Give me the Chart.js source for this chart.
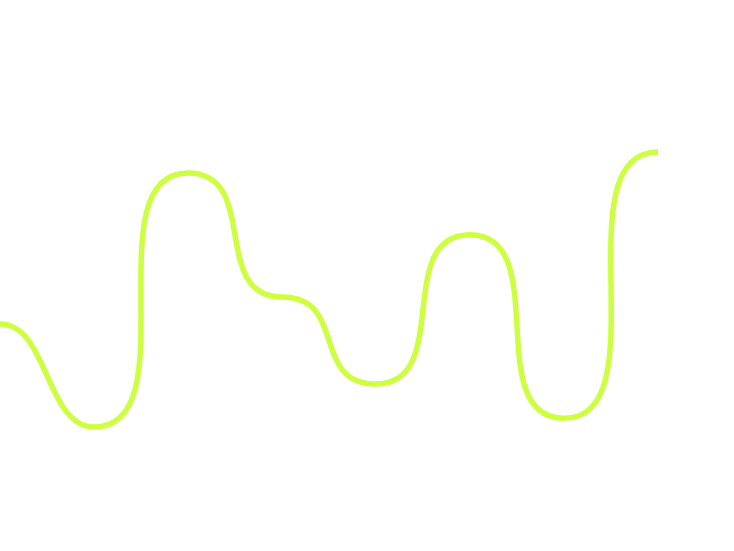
<!DOCTYPE html>
<html>
<head>
<meta charset="utf-8">
<style>
html,body{margin:0;padding:0;background:#fff;}
#wrap{width:734px;height:551px;position:relative;}
</style>
<script src="https://cdn.jsdelivr.net/npm/chart.js@4/dist/chart.umd.min.js"></script>
</head>
<body>
<div id="wrap"><canvas id="c"></canvas></div>
<script>
const categories = ['1', '2', '3', '4', '5', '6', '7', '8'];
const seriesValues = [41.2, 22.5, 68.6, 46.1, 30.3, 57.4, 24.1, 72.4];
const yMin = 0;
const yMax = 100;

// Smooth curve with horizontal tangents at every point; arm length grows with segment steepness
const flatTangents = {
  id: 'flatTangents',
  beforeDatasetDraw(chart, args) {
    const meta = args.meta;
    const line = meta.dataset;
    if (!line) return;
    line._pointsUpdated = false;
    line.updateControlPoints(chart.chartArea, meta.iScale.axis);
    const pts = meta.data;
    const n = pts.length;
    const arm = (j) => {
      const p = pts[j], q = pts[j + 1];
      const dx = Math.abs(q.x - p.x);
      const len = Math.hypot(q.x - p.x, q.y - p.y);
      return 0.6 * Math.sqrt(len / dx) * dx * (j === 0 ? 0.7 : 1);
    };
    for (let i = 0; i < n; i++) {
      const p = pts[i];
      p.cp1y = p.y;
      p.cp2y = p.y;
      p.cp1x = i > 0 ? p.x - arm(i - 1) : p.x;
      p.cp2x = i < n - 1 ? p.x + arm(i) : p.x;
    }
  }
};

new Chart(document.getElementById('c'), {
  type: 'line',
  data: {
    labels: categories,
    datasets: [{
      data: seriesValues,
      borderColor: '#cdff40',
      borderWidth: 5.5,
      tension: 0.4,
      pointRadius: 0,
      pointHoverRadius: 0,
      fill: false,
      borderCapStyle: 'butt'
    }]
  },
  options: {
    responsive: true,
    maintainAspectRatio: false,
    animation: false,
    layout: { padding: { left: 0, right: 76, top: 0, bottom: 0 } },
    plugins: { legend: { display: false }, tooltip: { enabled: false } },
    events: [],
    scales: {
      x: { display: false, offset: false },
      y: { display: false, min: yMin, max: yMax }
    }
  },
  plugins: [flatTangents]
});
</script>
</body>
</html>
